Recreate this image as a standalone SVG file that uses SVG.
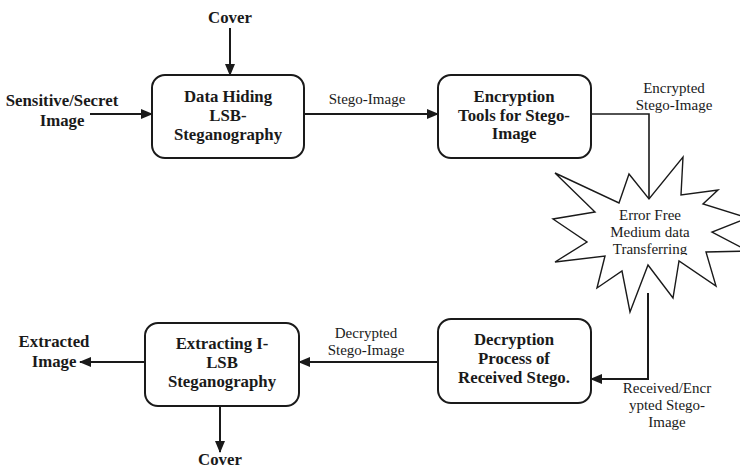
<svg xmlns="http://www.w3.org/2000/svg" width="740" height="468" viewBox="0 0 740 468">
  <style>
    .box { fill: #ffffff; stroke: #1a1a1a; stroke-width: 2; }
    .star { fill: #ffffff; stroke: #1a1a1a; stroke-width: 1.4; stroke-linejoin: miter; }
    .title { font-family: "Liberation Serif", "Times New Roman", serif; font-size: 16.8px; font-weight: bold; fill: #1a1a1a; text-anchor: middle; }
    .label { font-family: "Liberation Serif", "Times New Roman", serif; font-size: 15px; fill: #1a1a1a; text-anchor: middle; }
    .wire { fill: none; stroke: #1a1a1a; stroke-width: 2; }
    .thin { fill: none; stroke: #1a1a1a; stroke-width: 1.6; }
  </style>
  <defs>
    <marker id="arrow" viewBox="0 0 12 10" refX="11" refY="5" markerWidth="12" markerHeight="10" markerUnits="userSpaceOnUse" orient="auto">
      <path d="M0,0 L12,5 L0,10 z" fill="#1a1a1a"/>
    </marker>
    <clipPath id="starText">
      <rect x="600" y="200" width="100" height="55"/>
    </clipPath>
  </defs>

  <rect width="740" height="468" fill="#ffffff"/>

  <!-- connectors -->
  <g id="connectors">
    <line class="wire" x1="230" y1="28" x2="230" y2="75" marker-end="url(#arrow)"/>
    <line class="wire" x1="90" y1="114" x2="152" y2="114" marker-end="url(#arrow)"/>
    <line class="wire" x1="304" y1="114" x2="438" y2="114" marker-end="url(#arrow)"/>
    <polyline class="thin" points="591,114 649,114 649,199"/>
    <polyline class="wire" points="648,293 648,379 591,379" marker-end="url(#arrow)"/>
    <line class="wire" x1="438" y1="362" x2="299" y2="362" marker-end="url(#arrow)"/>
    <line class="wire" x1="145" y1="362" x2="80" y2="362" marker-end="url(#arrow)"/>
    <line class="wire" x1="220" y1="406" x2="220" y2="452" marker-end="url(#arrow)"/>
  </g>

  <!-- free-standing labels -->
  <g id="labels">
    <text class="title" x="230" y="23">Cover</text>
    <text class="title" x="62" y="106">Sensitive/Secret</text>
    <text class="title" x="62" y="126">Image</text>
    <text class="label" x="367" y="104">Stego-Image</text>
    <text class="label" x="674" y="93">Encrypted</text>
    <text class="label" x="674" y="110">Stego-Image</text>
    <text class="label" x="366" y="338">Decrypted</text>
    <text class="label" x="366" y="355">Stego-Image</text>
    <text class="label" x="667" y="393">Received/Encr</text>
    <text class="label" x="667" y="410">ypted Stego-</text>
    <text class="label" x="667" y="427">Image</text>
    <text class="title" x="54" y="347">Extracted</text>
    <text class="title" x="54" y="367">Image</text>
    <text class="title" x="220" y="465">Cover</text>
  </g>

  <g id="data-hiding">
    <rect class="box" x="152" y="75" width="152" height="83" rx="13"/>
    <text class="title" x="228" y="102">Data Hiding</text>
    <text class="title" x="228" y="121">LSB-</text>
    <text class="title" x="228" y="140">Steganography</text>
  </g>

  <g id="encryption">
    <rect class="box" x="438" y="75" width="153" height="83" rx="13"/>
    <text class="title" x="514" y="102">Encryption</text>
    <text class="title" x="514" y="121">Tools for Stego-</text>
    <text class="title" x="514" y="139">Image</text>
  </g>

  <g id="medium">
    <polygon class="star" points="555,173 619,203 629,174 649,199 683,157 681,195 718,190 703,204 748,218 712,232 748,251 706,252 716,286 679,261 673,298 648,265 630,312 622,271 597,288 605,256 555,262 587,242 553,219 595,212"/>
    <g clip-path="url(#starText)">
      <text class="label" x="650" y="220">Error Free</text>
      <text class="label" x="650" y="237">Medium data</text>
      <text class="label" x="650" y="254">Transferring</text>
    </g>
  </g>

  <g id="decryption">
    <rect class="box" x="438" y="319" width="153" height="84" rx="13"/>
    <text class="title" x="514" y="345">Decryption</text>
    <text class="title" x="514" y="364">Process of</text>
    <text class="title" x="514" y="383">Received Stego.</text>
  </g>

  <g id="extracting">
    <rect class="box" x="145" y="323" width="154" height="83" rx="13"/>
    <text class="title" x="222" y="349">Extracting I-</text>
    <text class="title" x="222" y="368">LSB</text>
    <text class="title" x="222" y="387">Steganography</text>
  </g>
</svg>
